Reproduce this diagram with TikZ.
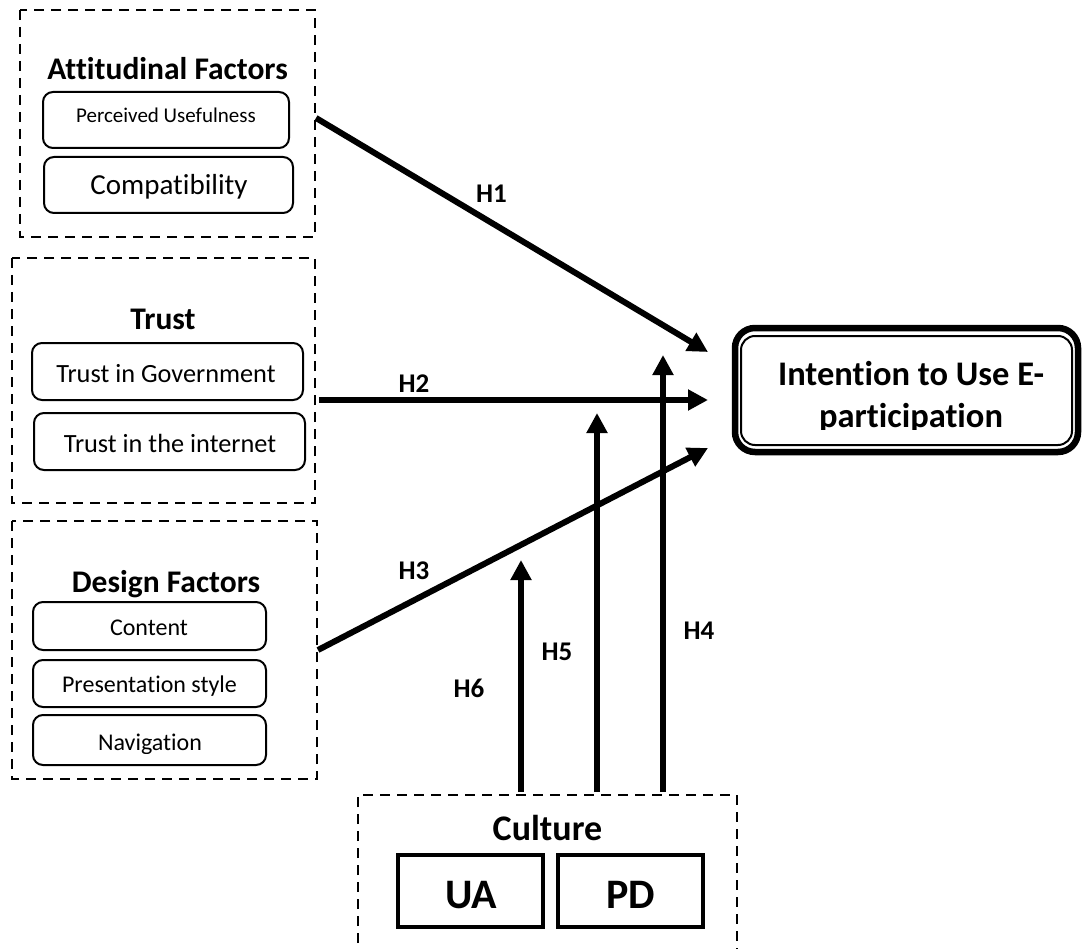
\documentclass[tikz,border=0pt]{standalone}
\usepackage{fontspec}
\setmainfont{Carlito}[Ligatures={NoCommon}]
\usetikzlibrary{arrows.meta}
\tikzset{
  grp/.style={draw=black, line width=2pt, dash pattern=on 10pt off 7pt},
  rbox/.style={draw=black, line width=2pt, rounded corners=10pt, inner sep=0pt},
  sqbox/.style={draw=black, line width=4.5pt, inner sep=0pt, minimum width=145pt, minimum height=72pt},
  ttl/.style={font=\fontsize{31.5}{37}\selectfont\bfseries, anchor=base, inner sep=0pt},
  lbl/.style={font=\fontsize{27}{32}\selectfont\bfseries, inner sep=0pt},
  itm/.style={anchor=base, inner sep=0pt},
  hyp/.style={line width=6pt, -{Triangle[length=20pt,width=20pt]}},
}
\begin{document}
\begin{tikzpicture}[x=1pt,y=-1pt]
\useasboundingbox (0,0) rectangle (1083,949);
\fill[white] (0,0) rectangle (1083,949);

% group frames
\draw[grp] (20,10) rectangle (315,237);
\draw[grp] (12,258) rectangle (315,503);
\draw[grp] (12,521) rectangle (317,779);
\draw[grp] (358,960) -- (358,795) -- (737,795) -- (737,960);

% titles
\node[ttl] (tatt) at (167.5,80) {Attitudinal Factors};
\node[ttl] (ttrust) at (163,329) {Trust};
\node[ttl] (tdes) at (166,592) {Design Factors};
\node[font=\fontsize{36}{42}\selectfont\bfseries, anchor=base, inner sep=0pt] (tcul) at (547.5,840) {Culture};

% item boxes
\node[rbox, minimum width=246pt, minimum height=56pt] (pu) at (166,120) {};
\node[itm, font=\fontsize{21}{25}\selectfont] (tpu) at (166,123) {Perceived Usefulness};
\node[rbox, minimum width=249pt, minimum height=56pt] (comp) at (168.5,185) {};
\node[itm, font=\fontsize{29}{34}\selectfont] (tcomp) at (169,195) {Compatibility};

\node[rbox, minimum width=271pt, minimum height=57pt] (tg) at (167.5,371.5) {};
\node[itm, font=\fontsize{26.3}{31}\selectfont] (ttg) at (166,382) {Trust in Government};
\node[rbox, minimum width=271pt, minimum height=57pt] (ti) at (169.5,441.5) {};
\node[itm, font=\fontsize{26.3}{31}\selectfont] (tti) at (170,452) {Trust in the internet};

\node[rbox, minimum width=233pt, minimum height=48pt] (cont) at (149.5,626) {};
\node[itm, font=\fontsize{24}{29}\selectfont] (tcont) at (149,635) {Content};
\node[rbox, minimum width=233pt, minimum height=47pt] (pres) at (149.5,683.5) {};
\begin{scope}
\clip (30,655) rectangle (270,695);
\node[itm, font=\fontsize{24}{29}\selectfont] (tpres) at (149.5,692) {Presentation style};
\end{scope}
\node[rbox, minimum width=233pt, minimum height=50pt] (nav) at (149.5,740) {};
\begin{scope}
\clip (30,712) rectangle (270,753);
\node[itm, font=\fontsize{24}{29}\selectfont] (tnav) at (150,750) {Navigation};
\end{scope}

% culture boxes
\node[sqbox] (ua) at (470.5,891) {};
\node[itm, font=\fontsize{42}{48}\selectfont\bfseries] (tua) at (471,908) {UA};
\node[sqbox] (pd) at (630.5,891) {};
\node[itm, font=\fontsize{42}{48}\selectfont\bfseries] (tpd) at (630.5,908) {PD};

% outcome box
\draw[line width=6.5pt, rounded corners=20pt] (735,328) rectangle (1078,452);
\node[draw, line width=2pt, rounded corners=14pt, minimum width=331pt, minimum height=109pt, inner sep=0pt] (iu) at (906.5,390.5) {};
\node[itm, font=\fontsize{34.5}{41}\selectfont\bfseries] (tiu1) at (911,385) {Intention to Use E-};
\begin{scope}
\clip (745,390) rectangle (1070,429);
\node[itm, font=\fontsize{34.5}{41}\selectfont\bfseries] (tiu2) at (911,427) {participation};
\end{scope}

% connector endpoints
\coordinate (s1) at (316,118);  \coordinate (e1) at (708,352);
\coordinate (s2) at (319,400);  \coordinate (e2) at (708,400);
\coordinate (s3) at (318,650);  \coordinate (e3) at (708,448);
\coordinate (s6) at (521,792);  \coordinate (e6) at (521,560);
\coordinate (s5) at (597,792);  \coordinate (e5) at (597,413);
\coordinate (s4) at (663,792);  \coordinate (e4) at (663,355);

\draw[hyp] (s1) -- (e1);
\draw[hyp] (s2) -- (e2);
\draw[hyp] (s3) -- (e3);
\draw[hyp] (s6) -- (e6);
\draw[hyp] (s5) -- (e5);
\draw[hyp] (s4) -- (e4);

% labels
\node[lbl] (l1) at (491.5,194) {H1};
\node[lbl] (l2) at (414,383.5) {H2};
\node[lbl] (l3) at (414,571) {H3};
\node[lbl] (l6) at (469,688) {H6};
\node[lbl] (l5) at (557,652) {H5};
\node[lbl] (l4) at (699,631) {H4};
\end{tikzpicture}
\end{document}
